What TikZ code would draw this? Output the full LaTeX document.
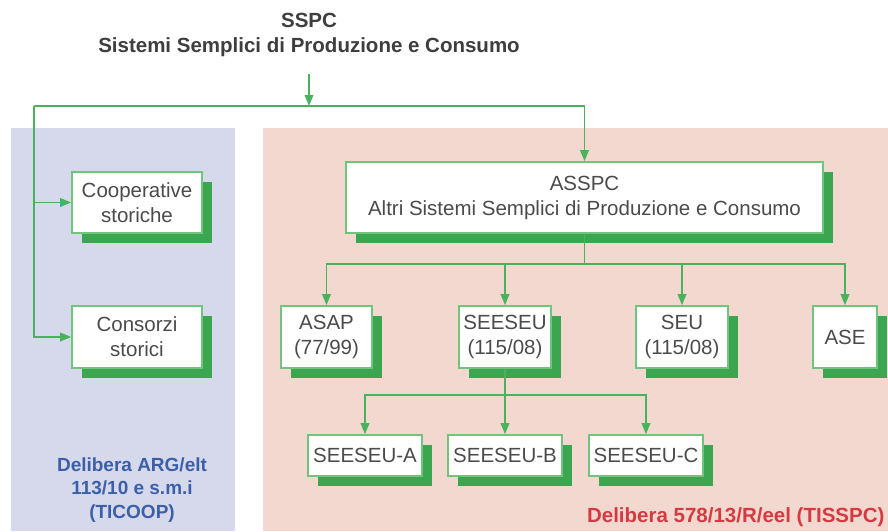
\documentclass[tikz,border=0pt]{standalone}
\usepackage{fontspec}
\setmainfont{Liberation Sans}
\usetikzlibrary{arrows.meta,shadows}
\definecolor{bluepanel}{RGB}{214,216,236}
\definecolor{pinkpanel}{RGB}{242,216,206}
\definecolor{shgreen}{RGB}{60,165,80}
\definecolor{bordgreen}{RGB}{112,196,124}
\definecolor{linegreen}{RGB}{72,178,92}
\definecolor{boxtext}{RGB}{75,75,75}
\definecolor{titletext}{RGB}{62,62,62}
\definecolor{bluetext}{RGB}{60,96,168}
\definecolor{redtext}{RGB}{214,58,66}
\tikzset{
  boxnode/.style={draw=bordgreen, line width=1.6pt, fill=white, inner sep=0pt,
    align=center, text=boxtext, font=\fontsize{20.5}{25}\selectfont,
    general shadow={fill=shgreen, shadow xshift=10pt, shadow yshift=-10pt}},
  conn/.style={draw=linegreen, line width=1.9pt},
  arr/.style={conn, -{Triangle[length=11pt,width=8.5pt]}},
}
\begin{document}
\begin{tikzpicture}[x=1pt,y=-1pt]
\useasboundingbox (0,0) rectangle (888,531);
\fill[white] (0,0) rectangle (888,531);
% panels
\fill[bluepanel] (11,128) rectangle (235,531);
\fill[pinkpanel] (263,128) rectangle (888,531);
% title
\node[align=center, text=titletext, font=\bfseries\fontsize{20.5}{25}\selectfont] (title) at (309,35)
  {SSPC\\Sistemi Semplici di Produzione e Consumo};
% boxes
\node[boxnode, minimum width=130pt, minimum height=61pt] (coop) at (137,202.5) {Cooperative\\storiche};
\node[boxnode, minimum width=130pt, minimum height=62pt] (cons) at (137,337) {Consorzi\\storici};
\node[boxnode, minimum width=477pt, minimum height=71pt] (asspc) at (584.5,197.5) {ASSPC\\Altri Sistemi Semplici di Produzione e Consumo};
\node[boxnode, minimum width=91pt, minimum height=62pt] (asap) at (326.5,337) {ASAP\\(77/99)};
\node[boxnode, minimum width=92pt, minimum height=62pt] (seeseu) at (505,337) {SEESEU\\(115/08)};
\node[boxnode, minimum width=92pt, minimum height=62pt] (seu) at (682,337) {SEU\\(115/08)};
\node[boxnode, minimum width=64pt, minimum height=62pt] (ase) at (845,337) {ASE};
\node[boxnode, minimum width=114pt, minimum height=41pt] (sa) at (365,455.5) {SEESEU-A};
\node[boxnode, minimum width=114pt, minimum height=41pt] (sb) at (505,455.5) {SEESEU-B};
\node[boxnode, minimum width=114pt, minimum height=41pt] (sc) at (646,455.5) {SEESEU-C};
% labels
\node[align=center, text=bluetext, font=\bfseries\fontsize{19}{23.5}\selectfont] (lblue) at (132,490)
  {Delibera ARG/elt\\113/10 e s.m.i\\(TICOOP)};
\node[anchor=base east, text=redtext, font=\bfseries\fontsize{20.5}{25}\selectfont] (lred) at (888,522)
  {Delibera 578/13/R/eel (TISSPC)};
% connectors
\coordinate (j0) at (309,106);
\coordinate (jl) at (34,106);
\coordinate (j1) at (584.5,264);
\coordinate (j2) at (505,395);
\draw[arr, shorten <=14pt] (title.south) -- (j0);
\draw[arr] (j0) -| (asspc.north);
\draw[conn] (j0) -- (jl);
\draw[arr] (jl) |- (coop.west);
\draw[arr] (jl) |- (cons.west);
\draw[conn] (asspc.south) -- (j1);
\draw[arr] (j1) -| (asap.north);
\draw[arr] (j1) -| (seeseu.north);
\draw[arr] (j1) -| (seu.north);
\draw[arr] (j1) -| (ase.north);
\draw[conn] (seeseu.south) -- (j2);
\draw[arr] (j2) -| (sa.north);
\draw[arr] (j2) -| (sb.north);
\draw[arr] (j2) -| (sc.north);
\end{tikzpicture}
\end{document}
